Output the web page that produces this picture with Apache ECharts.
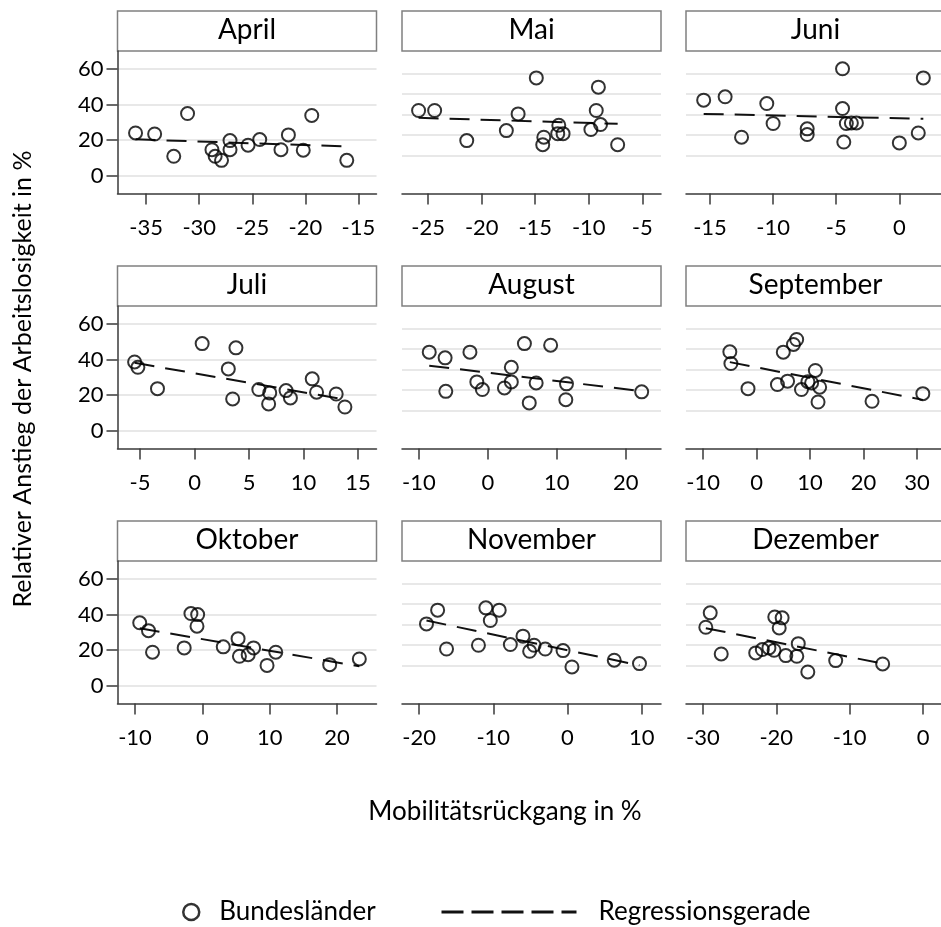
<!DOCTYPE html>
<html><head><meta charset="utf-8">
<script src="https://cdn.jsdelivr.net/npm/echarts@6/dist/echarts.min.js"></script>
<style>html,body{margin:0;padding:0;background:#fff}#c{width:941px;height:927px}</style>
</head><body><div id="c"></div>
<script>
// ---------- DATA ----------
const months = ['April','Mai','Juni','Juli','August','September','Oktober','November','Dezember'];

const xApril = [-36.0, -34.2, -31.1, -32.4, -28.8, -28.5, -27.9, -27.1, -27.1, -25.4, -24.3, -22.3, -21.6, -20.2, -19.4, -16.1];
const yApril = [24.0, 23.4, 34.9, 10.9, 14.6, 10.9, 8.6, 19.7, 14.6, 17.1, 20.3, 14.6, 22.9, 14.3, 33.8, 8.6];
const regApril = [[-36.0, 20.4], [-16.1, 16.4]];

const xMai = [-25.9, -24.4, -21.4, -17.7, -16.6, -14.9, -14.2, -14.3, -12.8, -12.9, -12.4, -9.8, -9.3, -9.1, -8.9, -7.3];
const yMai = [36.6, 36.6, 19.7, 25.3, 34.7, 54.9, 21.6, 17.4, 28.3, 23.6, 23.6, 25.9, 36.6, 49.7, 28.7, 17.4];
const regMai = [[-25.9, 32.5], [-7.3, 29.1]];

const xJuni = [-15.5, -13.8, -12.5, -10.5, -10.0, -7.3, -7.3, -4.5, -4.5, -4.4, -4.2, -3.8, -3.4, 0.0, 1.5, 1.9];
const yJuni = [42.4, 44.3, 21.6, 40.5, 29.3, 26.3, 23.1, 60.0, 37.7, 18.9, 29.3, 29.6, 29.6, 18.4, 24.0, 54.9];
const regJuni = [[-15.5, 34.7], [1.9, 31.9]];

const xJuli = [-5.5, -5.2, -3.4, 0.7, 3.1, 3.8, 3.5, 5.9, 6.9, 6.8, 8.4, 8.8, 10.8, 11.2, 13.0, 13.8];
const yJuli = [38.6, 35.6, 23.6, 48.9, 34.7, 46.5, 17.8, 23.1, 21.2, 15.0, 22.5, 18.4, 29.1, 21.6, 20.6, 13.3];
const regJuli = [[-5.5, 38.1], [13.8, 17.5]];

const xAugust = [-8.5, -6.2, -6.1, -2.6, -1.6, -0.8, 2.4, 3.4, 3.4, 5.3, 6.0, 7.0, 9.1, 11.4, 11.3, 22.3];
const yAugust = [44.1, 40.9, 22.1, 44.1, 27.4, 23.1, 24.0, 35.6, 27.4, 48.9, 15.6, 26.8, 48.0, 26.3, 17.4, 21.8];
const regAugust = [[-8.5, 36.5], [22.3, 22.2]];

const xSeptember = [-5.0, -4.8, -1.6, 3.9, 5.0, 5.8, 6.9, 7.5, 8.4, 9.6, 10.3, 11.0, 11.5, 11.8, 21.6, 31.1];
const ySeptember = [44.3, 37.7, 23.6, 25.9, 44.1, 27.8, 48.4, 51.2, 23.1, 27.5, 26.8, 33.8, 16.1, 24.4, 16.5, 20.8];
const regSeptember = [[-5.0, 38.5], [31.1, 17.3]];

const xOktober = [-9.3, -8.0, -7.4, -2.7, -1.7, -0.7, -0.8, 3.1, 5.3, 5.5, 6.8, 7.6, 9.6, 10.9, 18.9, 23.3];
const yOktober = [35.3, 30.9, 18.8, 21.2, 40.5, 39.9, 33.4, 21.8, 26.4, 16.5, 17.4, 21.2, 11.4, 18.8, 11.8, 15.0];
const regOktober = [[-9.3, 32.2], [23.3, 10.9]];

const xNovember = [-19.0, -17.5, -16.3, -12.0, -11.0, -10.4, -9.2, -7.7, -6.0, -5.1, -4.5, -3.0, -0.6, 0.6, 6.3, 9.7];
const yNovember = [34.7, 42.4, 20.6, 22.7, 43.7, 36.6, 42.4, 23.1, 27.8, 19.3, 22.7, 20.6, 19.7, 10.5, 14.3, 12.4];
const regNovember = [[-19.0, 36.6], [9.7, 11.4]];

const xDezember = [-29.0, -29.6, -27.5, -22.8, -21.9, -21.0, -20.3, -20.2, -19.2, -19.6, -18.7, -17.0, -17.2, -15.7, -11.9, -5.5];
const yDezember = [40.9, 32.8, 17.8, 18.4, 20.3, 21.2, 19.9, 38.6, 38.1, 32.4, 16.9, 23.6, 16.5, 7.7, 14.1, 12.2];
const regDezember = [[-29.6, 32.3], [-5.5, 12.4]];

// axis ticks and ranges
const xTicksApril = [-35, -30, -25, -20, -15];
const xTicksMai = [-25, -20, -15, -10, -5];
const xTicksJuni = [-15, -10, -5, 0];
const xTicksJuli = [-5, 0, 5, 10, 15];
const xTicksAugust = [-10, 0, 10, 20];
const xTicksSeptember = [-10, 0, 10, 20, 30];
const xTicksOktober = [-10, 0, 10, 20];
const xTicksNovember = [-20, -10, 0, 10];
const xTicksDezember = [-30, -20, -10, 0];

const xRangeApril = [-37.7, -13.3];
const xRangeMai = [-27.45, -3.25];
const xRangeJuni = [-16.9, 3.3];
const xRangeJuli = [-7.07, 16.7];
const xRangeAugust = [-12.45, 25.1];
const xRangeSeptember = [-13.2, 34.5];
const xRangeOktober = [-12.6, 25.85];
const xRangeNovember = [-22.3, 12.6];
const xRangeDezember = [-32.3, 2.45];

const yRange = [-10, 70];
const yTicks = [0, 20, 40, 60];
const yGridInner = [11.4, 22.85, 34.3, 45.75, 57.2];

const seriesNames = ['Bundesländer', 'Regressionsgerade'];
const xTitle = 'Mobilitätsrückgang in %';
const yTitle = 'Relativer Anstieg der Arbeitslosigkeit in %';

// ---------- BUILD ----------
const panelX = [xApril, xMai, xJuni, xJuli, xAugust, xSeptember, xOktober, xNovember, xDezember];
const panelY = [yApril, yMai, yJuni, yJuli, yAugust, ySeptember, yOktober, yNovember, yDezember];
const panelReg = [regApril, regMai, regJuni, regJuli, regAugust, regSeptember, regOktober, regNovember, regDezember];
const panelTicks = [xTicksApril, xTicksMai, xTicksJuni, xTicksJuli, xTicksAugust, xTicksSeptember, xTicksOktober, xTicksNovember, xTicksDezember];
const panelRange = [xRangeApril, xRangeMai, xRangeJuni, xRangeJuli, xRangeAugust, xRangeSeptember, xRangeOktober, xRangeNovember, xRangeDezember];

const FONT = 'Lato';
const colLeft = [117.5, 402, 686];
const rowTop = [51, 306, 561];
const plotW = 259, plotH = 142.5, headH = 40;
const textColor = '#000';
const axisColor = '#3a3a3a';

const grid = [], xAxis = [], yAxis = [], series = [], graphic = [];
months.forEach((m, i) => {
  const c = i % 3, r = Math.floor(i / 3);
  grid.push({ left: colLeft[c], top: rowTop[r], width: plotW, height: plotH, containLabel: false });
  xAxis.push({
    gridIndex: i, type: 'value', min: panelRange[i][0], max: panelRange[i][1],
    axisLine: { show: true, onZero: false, lineStyle: { color: axisColor, width: 1.5 } },
    axisTick: { show: true, length: 11, customValues: panelTicks[i], lineStyle: { color: axisColor, width: 1.5 } },
    axisLabel: { show: true, customValues: panelTicks[i], margin: 23, fontFamily: FONT, fontSize: 22, color: textColor },
    splitLine: { show: false }
  });
  const first = c === 0;
  yAxis.push({
    gridIndex: i, type: 'value', min: yRange[0], max: yRange[1],
    axisLine: { show: first, onZero: false, lineStyle: { color: axisColor, width: 1.5 } },
    axisTick: { show: first, length: 11, customValues: first ? yTicks : yGridInner, lineStyle: { color: axisColor, width: 1.5 } },
    axisLabel: { show: first, customValues: yTicks, margin: 14, fontFamily: FONT, fontSize: 22, color: textColor },
    splitLine: { show: true, lineStyle: { color: '#e8e8e8', width: 2 } }
  });
  series.push({
    name: seriesNames[1], type: 'line', xAxisIndex: i, yAxisIndex: i,
    data: panelReg[i], symbol: 'none', silent: true, z: 2,
    itemStyle: { color: 'rgba(0,0,0,0)', borderWidth: 0 },
    lineStyle: { color: '#111', width: 2, type: [20, 11] }
  });
  series.push({
    name: seriesNames[0], type: 'scatter', xAxisIndex: i, yAxisIndex: i,
    data: panelX[i].map((x, k) => [x, panelY[i][k]]),
    symbol: 'circle', symbolSize: 13, z: 3,
    itemStyle: { color: 'rgba(255,255,255,0)', borderColor: '#000', borderWidth: 2 }
  });
  graphic.push({
    type: 'rect', shape: { x: colLeft[c], y: rowTop[r] - headH, width: plotW, height: headH },
    style: { fill: '#fff', stroke: '#808080', lineWidth: 1.5 }
  });
  graphic.push({
    type: 'text', x: colLeft[c] + plotW / 2, y: rowTop[r] - headH / 2 - 1,
    style: { text: m, fontFamily: FONT, fontSize: 28, fill: textColor, align: 'center', verticalAlign: 'middle' }
  });
});

graphic.push({
  type: 'text', x: 505, y: 812,
  style: { text: xTitle, fontFamily: FONT, fontSize: 26, fill: textColor, align: 'center', verticalAlign: 'middle' }
});
graphic.push({
  type: 'text', x: 23, y: 379, rotation: Math.PI / 2,
  style: { text: yTitle, fontFamily: FONT, fontSize: 25, fill: textColor, align: 'center', verticalAlign: 'middle' }
});

const option = {
  animation: false,
  backgroundColor: '#fff',
  grid, xAxis, yAxis, series, graphic,
  legend: [
    { data: [seriesNames[0]], left: 182, top: 899, padding: 0, itemWidth: 16, itemHeight: 16,
      itemStyle: { color: 'rgba(255,255,255,0)', borderColor: '#000', borderWidth: 2.5 },
      textStyle: { fontFamily: FONT, fontSize: 26, color: textColor, padding: [0, 0, 0, 15] }, selectedMode: false },
    { data: [seriesNames[1]], left: 440, top: 899, padding: 0, itemWidth: 135, itemHeight: 16,
      itemStyle: { opacity: 0 },
      lineStyle: { type: [22, 8], width: 3, color: '#111' },
      textStyle: { fontFamily: FONT, fontSize: 26, color: textColor, padding: [0, 0, 0, 17] }, selectedMode: false }
  ]
};

const chart = echarts.init(document.getElementById('c'), null, { renderer: 'canvas' });
chart.setOption(option);
</script>
</body></html>
